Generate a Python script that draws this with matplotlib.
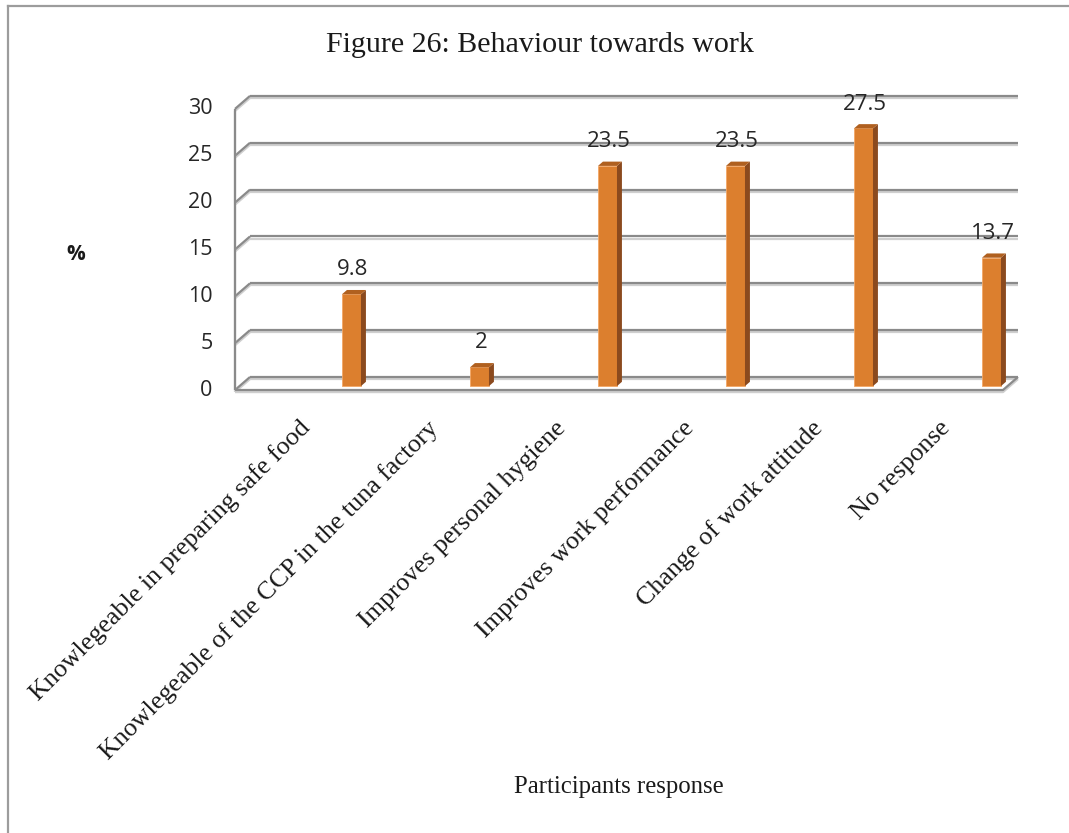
import matplotlib.pyplot as plt
import matplotlib.patheffects as pe
from matplotlib.patches import Polygon
from matplotlib.lines import Line2D

categories = [
    "Knowlegeable in preparing safe food",
    "Knowlegeable of the CCP in the tuna factory",
    "Improves personal hygiene",
    "Improves work performance",
    "Change of work attitude",
    "No response",
]
values = [9.8, 2, 23.5, 23.5, 27.5, 13.7]
value_labels = ["9.8", "2", "23.5", "23.5", "27.5", "13.7"]
yticks = [0, 5, 10, 15, 20, 25, 30]

W, H = 1069, 833
fig = plt.figure(figsize=(W / 100, H / 100), dpi=100)

# pixel geometry of the front plane
X0, Y0 = 235, 390          # front-left corner of the floor
PX_X, PX_Y = 128, 9.37     # pixels per category / per percent
XLIM, YLIM = (-0.3, 6.4), (-1, 32)
left = X0 + XLIM[0] * PX_X
right = X0 + XLIM[1] * PX_X
bottom = Y0 - YLIM[0] * PX_Y
top = Y0 - YLIM[1] * PX_Y
ax = fig.add_axes([left / W, 1 - bottom / H, (right - left) / W, (bottom - top) / H])
ax.set_xlim(*XLIM)
ax.set_ylim(*YLIM)
ax.axis("off")

# oblique depth of the walls
DX, DY = 15 / PX_X, 13 / PX_Y
n = len(categories)

grid_kw = dict(color="#8a8a8a", lw=1.6, solid_capstyle="butt",
               path_effects=[pe.SimpleLineShadow(offset=(0, -1.5), shadow_color="#cfcfcf", alpha=1),
                             pe.Normal()])
for v in yticks:
    ax.plot([DX, n + DX], [v + DY, v + DY], **grid_kw)
    ax.plot([0, DX], [v, v + DY], **grid_kw)
ax.plot([0, 0], [0, yticks[-1]], **grid_kw)
ax.plot([0, n, n + DX], [0, 0, DY], **grid_kw)

for v in yticks:
    ax.text(-0.175, v, str(v), ha="right", va="center", fontsize=15.5,
            family="Open Sans", color="#262626")

# 3D-looking columns
F0, F1 = 0.3, 0.63
BW = 19 / PX_X
pos = [k + 0.91 for k in range(n)]
front = ax.bar(pos, values, width=BW, bottom=F0 * DY, color="#dc7f2e",
               edgecolor="#f3a765", linewidth=0.6, zorder=3)
ddx, ddy = (F1 - F0) * DX, (F1 - F0) * DY
for x, v in zip(pos, values):
    xl, xr = x - BW / 2, x + BW / 2
    yb, yt = F0 * DY, F0 * DY + v
    ax.add_patch(Polygon([(xr, yb), (xr + ddx, yb + ddy), (xr + ddx, yt + ddy), (xr, yt)],
                         closed=True, facecolor="#8b4a1e", edgecolor="none", zorder=3))
    ax.add_patch(Polygon([(xl, yt), (xr, yt), (xr + ddx, yt + ddy), (xl + ddx, yt + ddy)],
                         closed=True, facecolor="#b0601f", edgecolor="none", zorder=3))

for x, v, lab in zip(pos, values, value_labels):
    ax.text(x + 0.01, v + F0 * DY + 2.6, lab, ha="center", va="center", fontsize=16,
            family="Open Sans", color="#262626", zorder=4)

for k, cat in enumerate(categories):
    ax.text(k + 0.5 + 0.06, -3.7, cat, rotation=45, rotation_mode="anchor",
            ha="right", va="center", fontsize=18.7, family="Liberation Serif",
            color="#1a1a1a", clip_on=False)

fig.text(540 / W, 1 - 45 / H, "Figure 26: Behaviour towards work", ha="center", va="center",
         fontsize=21.6, family="Liberation Serif", color="#1a1a1a")
fig.text(619 / W, 1 - 787 / H, "Participants response", ha="center", va="center",
         fontsize=17.8, family="Liberation Serif", color="#1a1a1a")
fig.text(76 / W, 1 - 255 / H, "%", ha="center", va="center", fontsize=15,
         family="Open Sans", fontweight="bold", color="#1a1a1a")

# outer frame (only top and left edges fall inside the picture)
fig.add_artist(Line2D([7.7 / W, 7.7 / W], [0, 1 - 6 / H], color="#9c9c9c", lw=1.6))
fig.add_artist(Line2D([7.7 / W, 1], [1 - 6 / H, 1 - 6 / H], color="#9c9c9c", lw=1.6))

fig.savefig("out.png", dpi=100)
